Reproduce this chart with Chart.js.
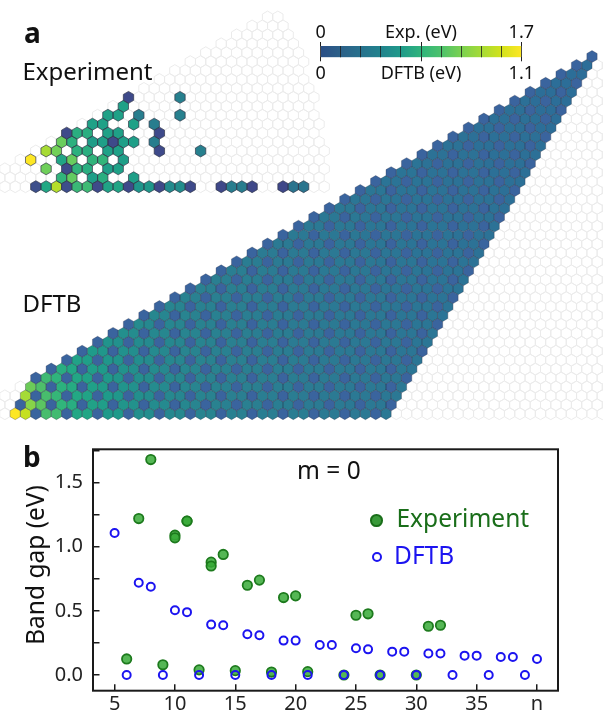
<!DOCTYPE html>
<html>
<head>
<meta charset="utf-8">
<script src="https://cdn.jsdelivr.net/npm/chart.js@4"></script>
<style>
body { margin: 0; background: #fff; }
#page { position: relative; width: 603px; height: 712px; overflow: hidden; font-family: "Noto Sans", sans-serif; color: #111; }
canvas { position: absolute; }
#map { filter: blur(.3px); }
.lbl { position: absolute; line-height: 1; white-space: nowrap; }
.dot { position: absolute; border-radius: 50%; box-sizing: border-box; }
</style>
</head>
<body>
<div id="page">
  <canvas id="map" width="603" height="430" style="left:0;top:0"></canvas>
  <canvas id="bar" width="310" height="70" style="left:270px;top:15px"></canvas>
  <canvas id="gap" width="603" height="282" style="left:0;top:430px"></canvas>
</div>
<script>
// panel b, m = 0
const bExpN = [6,7,8,9,10,10,11,11,12,13,13,14,15,16,17,18,19,20,21,24,25,26,27,30,31,32]
const bExpGap = [.125,1.22,1.68,.08,1.09,1.07,1.2,1.2,.04,.88,.85,.94,.034,.7,.74,.023,.604,.617,.026,0,.466,.477,0,0,.38,.388]
const bDftbN = [5,6,7,8,9,10,11,12,13,14,15,16,17,18,19,20,21,22,23,24,25,26,27,28,29,30,31,32,33,34,35,36,37,38,39,40]
const bDftbGap = [1.107,0,.719,.688,0,.505,.49,0,.393,.388,0,.318,.31,0,.268,.268,0,.234,.234,0,.208,.2,0,.182,.182,0,.167,.167,0,.151,.151,0,.14,.14,0,.125]
const bXTicks = [5,10,15,20,25,30,35,40]
const bXLabels = ['5','10','15','20','25','30','35','n']
const bYTicks = [0,.25,.5,.75,1,1.25,1.5,1.75]
const bYLabels = ['0.0','','0.5','','1.0','','1.5','']

// panel a, experiment: per row m, the tube index n and the gap
const expN = [
  [6,7,8,9,10,11,12,13,14,15,16,17,18,19,20,21,24,25,26,27,30,31,32],
  [8,9,11,12,15],
  [6,8,9,10,12,13],
  [4,7,8,10,11,13],
  [5,6,8,9,11,12,16,20],
  [6,7,9,10,11,12,13,15],
  [6,7,8,10,11,15],
  [8,9,12,14],
  [9,10,12,16],
  [10],
  [10,15]
]
const expGap = [
  [.1,.95,1.6,.08,1.1,1.12,.04,.85,.9,.03,.7,.72,.02,.6,.62,.03,0,.47,.47,0,0,.38,.39],
  [1.05,1.3,.8,1,.8],
  [1.35,.03,1.05,1,.8,.82],
  [1.9,.9,1.32,1.05,1.06,.8],
  [1.55,1.36,1.02,1,.82,.82,.03,.5],
  [1.33,1.02,.78,.8,.03,.8,.8,.48],
  [.03,1,1,.82,.82,.03],
  [.82,.82,.82,.47],
  [.82,.82,.48,.5],
  [.82],
  [.03,.5]
]

// panel a, DFTB: per row m, cells start at dftbStartN[m] and run to n = 40
const dftbStartN = [4,4,4,4,4,5,6,7,8,9,10,11,12,13,14,15,16,17,18,19,20,21,22,23,24,25,26,27,28,29,30,31,32,33,34,35,36,37,38,39,40]
const dftbGap = [
  [1.3,1.11,0,.72,.69,0,.5,.49,0,.39,.39,0,.32,.31,0,.27,.27,0,.23,.23,0,.21,.2,0,.18,.18,0,.17,.17,0,.15,.15,0,.14,.14,0,.13],
  [0,.93,.79,0,.61,.55,0,.45,.42,0,.36,.34,0,.3,.28,0,.26,.24,0,.22,.21,0,.2,.19,0,.18,.17,0,.16,.16,0,.15,.14,0,.14,.13,0],
  [1,0,.72,.63,0,.51,.47,0,.4,.37,0,.32,.3,0,.27,.25,0,.23,.22,0,.2,.19,0,.18,.18,0,.17,.16,0,.15,.15,0,.14,.14,0,.13,.13],
  [.85,.74,0,.58,.53,0,.44,.41,0,.35,.33,0,.29,.28,0,.25,.24,0,.22,.21,0,.2,.19,0,.18,.17,0,.16,.16,0,.15,.14,0,.14,.13,0,.13],
  [0,.67,.6,0,.49,.45,0,.39,.36,0,.32,.3,0,.27,.26,0,.23,.22,0,.21,.2,0,.19,.18,0,.17,.16,0,.16,.15,0,.14,.14,0,.13,.13,0],
  [0,.55,.5,0,.42,.39,0,.34,.32,0,.29,.27,0,.25,.24,0,.22,.21,0,.19,.19,0,.18,.17,0,.16,.16,0,.15,.14,0,.14,.13,0,.13,.12],
  [0,.46,.43,0,.37,.35,0,.31,.29,0,.26,.25,0,.23,.22,0,.2,.2,0,.18,.18,0,.17,.16,0,.15,.15,0,.14,.14,0,.13,.13,0,.12],
  [0,.4,.37,0,.33,.31,0,.28,.27,0,.24,.23,0,.21,.21,0,.19,.19,0,.17,.17,0,.16,.15,0,.14,.14,0,.13,.13,0,.12,.12,0],
  [0,.35,.33,0,.3,.28,0,.26,.25,0,.23,.22,0,.2,.19,0,.18,.18,0,.16,.16,0,.15,.15,0,.14,.14,0,.13,.13,0,.12,.12],
  [0,.32,.3,0,.27,.26,0,.24,.23,0,.21,.2,0,.19,.18,0,.17,.17,0,.16,.15,0,.14,.14,0,.13,.13,0,.12,.12,0,.12],
  [0,.29,.27,0,.25,.24,0,.22,.21,0,.2,.19,0,.18,.17,0,.16,.16,0,.15,.15,0,.14,.13,0,.13,.13,0,.12,.12,0],
  [0,.26,.25,0,.23,.22,0,.21,.2,0,.18,.18,0,.17,.16,0,.15,.15,0,.14,.14,0,.13,.13,0,.12,.12,0,.12,.11],
  [0,.24,.23,0,.21,.21,0,.19,.19,0,.17,.17,0,.16,.16,0,.15,.14,0,.14,.13,0,.13,.12,0,.12,.12,0,.11],
  [0,.22,.21,0,.2,.19,0,.18,.18,0,.17,.16,0,.15,.15,0,.14,.14,0,.13,.13,0,.12,.12,0,.11,.11,0],
  [0,.21,.2,0,.19,.18,0,.17,.17,0,.16,.15,0,.14,.14,0,.13,.13,0,.12,.12,0,.12,.11,0,.11,.11],
  [0,.19,.19,0,.18,.17,0,.16,.16,0,.15,.15,0,.14,.13,0,.13,.13,0,.12,.12,0,.11,.11,0,.11],
  [0,.18,.18,0,.17,.16,0,.15,.15,0,.14,.14,0,.13,.13,0,.12,.12,0,.12,.11,0,.11,.11,0],
  [0,.17,.17,0,.16,.15,0,.15,.14,0,.14,.13,0,.13,.12,0,.12,.12,0,.11,.11,0,.11,.1],
  [0,.16,.16,0,.15,.15,0,.14,.14,0,.13,.13,0,.12,.12,0,.11,.11,0,.11,.11,0,.1],
  [0,.15,.15,0,.14,.14,0,.13,.13,0,.12,.12,0,.12,.11,0,.11,.11,0,.1,.1,0],
  [0,.15,.14,0,.14,.13,0,.13,.12,0,.12,.12,0,.11,.11,0,.11,.1,0,.1,.1],
  [0,.14,.14,0,.13,.13,0,.12,.12,0,.12,.11,0,.11,.11,0,.1,.1,0,.1],
  [0,.13,.13,0,.13,.12,0,.12,.12,0,.11,.11,0,.1,.1,0,.1,.1,0],
  [0,.13,.13,0,.12,.12,0,.11,.11,0,.11,.11,0,.1,.1,0,.1,.09],
  [0,.12,.12,0,.12,.11,0,.11,.11,0,.1,.1,0,.1,.1,0,.09],
  [0,.12,.12,0,.11,.11,0,.11,.1,0,.1,.1,0,.1,.09,0],
  [0,.11,.11,0,.11,.11,0,.1,.1,0,.1,.1,0,.09,.09],
  [0,.11,.11,0,.1,.1,0,.1,.1,0,.09,.09,0,.09],
  [0,.11,.1,0,.1,.1,0,.1,.09,0,.09,.09,0],
  [0,.1,.1,0,.1,.1,0,.09,.09,0,.09,.09],
  [0,.1,.1,0,.09,.09,0,.09,.09,0,.09],
  [0,.1,.09,0,.09,.09,0,.09,.09,0],
  [0,.09,.09,0,.09,.09,0,.08,.08],
  [0,.09,.09,0,.09,.09,0,.08],
  [0,.09,.09,0,.08,.08,0],
  [0,.09,.08,0,.08,.08],
  [0,.08,.08,0,.08],
  [0,.08,.08,0],
  [0,.08,.08],
  [0,.08],
  [0]
]

// empty lattice behind the maps, first and last n of each row
const expGridStart = [3,2,2,3,4,5,6,7,8,9,10,11,12,13,14,15,16,17,18,19]
const expGridEnd = [34,33,33,32,32,31,30,30,29,28,28,27,26,25,25,24,23,22,21,20]
const dftbCornerStart = [3,2,2,3]
const dftbCornerEnd = [3,3,3,3]
const dftbGridEnd = [61,61,60,60,59,59,58,58,57,57,56,56,55,55,54,54,53,53,52,52,51,51,50,50,49,49,48,48,47,47,46,46,45,45,44,44,43,43,42,42]

// colour scale ticks
const barExpTicks = [0,.17,.34,.51,.68,.85,1.02,1.19,1.36,1.53,1.7]
const barDftbTicks = [0,.11,.22,.33,.44,.55,.66,.77,.88,.99,1.1]
const barExpLabels = ['0','','','','','Exp. (eV)','','','','','1.7']
const barDftbLabels = ['0','','','','','DFTB (eV)','','','','','1.1']

const font = '"Noto Sans", sans-serif'
const barColors = ['#2b4f86','#2c6189','#27718d','#21838d','#1f9a8a','#2fb47c','#4cc26c','#7ad151','#a5db36','#d2e21b','#fde725']
const expColors = [[0,'#3f4889'],[.1,'#3d4f8b'],[.38,'#2b748e'],[.5,'#27808e'],[.7,'#1f968b'],[.82,'#1fa187'],[.95,'#22a884'],[1.05,'#31b37b'],[1.2,'#4cc26c'],[1.35,'#6fcf5a'],[1.6,'#b5de2b'],[1.9,'#fde725']]
const dftbColors = [[0,'#3a649e'],[.08,'#2c6e98'],[.13,'#2b7894'],[.2,'#2a8091'],[.3,'#248c8e'],[.39,'#1f9a8a'],[.5,'#22a785'],[.6,'#2fb47c'],[.72,'#48bd6d'],[.9,'#7ad151'],[1,'#a5db36'],[1.11,'#c5e021'],[1.3,'#fde725']]

function hexToRgb(c){
    return [1,3,5].map(i => parseInt(c.slice(i,i+2),16))
}

function colorFor(v, stops){
    if (v <= stops[0][0]) return stops[0][1]
    for (let i = 1; i < stops.length; i++){
        if (v <= stops[i][0]){
            const a = hexToRgb(stops[i-1][1]), b = hexToRgb(stops[i][1])
            const t = (v - stops[i-1][0]) / (stops[i][0] - stops[i-1][0])
            return 'rgb(' + a.map((x,k) => Math.round(x + (b[k]-x)*t)).join(',') + ')'
        }
    }
    return stops[stops.length-1][1]
}

// chart.js has no hexagon point style, so a small controller draws them on the parsed points
class HexController extends Chart.ScatterController {
    draw(){
        const g = this.chart.ctx
        const ds = this.getDataset()
        const points = this.getMeta().data
        const hexPath = p => {
            g.beginPath()
            for (let i = 0; i < 6; i++){
                const a = Math.PI/3*i + Math.PI/6
                g.lineTo(p.x + 5.95*Math.cos(a), p.y + 5.95*Math.sin(a))
            }
            g.closePath()
        }
        g.save()
        points.forEach((p, i) => {
            hexPath(p)
            g.fillStyle = ds.stops ? colorFor(ds.data[i].gap, ds.stops) : '#ffffff'
            g.fill()
        })
        g.strokeStyle = ds.lineColor
        g.lineWidth = ds.lineW
        points.forEach(p => {
            hexPath(p)
            g.stroke()
        })
        g.restore()
    }
}
HexController.id = 'hex'
Chart.register(HexController)

// lattice position: x = n + m/2, y = m
function cell(n, m, gap){
    return {x: n + m/2, y: m, gap: gap}
}

const expCells = []
expN.forEach((row, m) => row.forEach((n, i) => expCells.push(cell(n, m, expGap[m][i]))))
const dftbCells = []
dftbGap.forEach((row, m) => row.forEach((v, i) => dftbCells.push(cell(dftbStartN[m] + i, m, v))))
const expGrid = []
expGridStart.forEach((s, m) => { for (let n = s; n <= expGridEnd[m]; n++) expGrid.push(cell(n, m)) })
const dftbGrid = []
dftbCornerStart.forEach((s, m) => { for (let n = s; n <= dftbCornerEnd[m]; n++) dftbGrid.push(cell(n, m)) })
dftbGridEnd.forEach((e, m) => { for (let n = 41; n <= e; n++) dftbGrid.push(cell(n, m)) })

new Chart(document.getElementById('map'), {
    type: 'scatter',
    data: {
        datasets: [
            {type: 'hex', data: dftbCells, yAxisID: 'yDftb', stops: dftbColors, lineColor: 'rgba(40,45,70,.42)', lineW: .7},
            {type: 'hex', data: expCells, yAxisID: 'yExp', stops: expColors, lineColor: 'rgba(45,50,70,.8)', lineW: .8},
            {type: 'hex', data: dftbGrid, yAxisID: 'yDftb', lineColor: '#ebebeb', lineW: 1},
            {type: 'hex', data: expGrid, yAxisID: 'yExp', lineColor: '#ebebeb', lineW: 1}
        ]
    },
    options: {
        responsive: false,
        animation: false,
        events: [],
        layout: {padding: 0, autoPadding: false},
        plugins: {legend: {display: false}, tooltip: {enabled: false}},
        scales: {
            x: {type: 'linear', display: false, min: 2.524, max: 61.068},
            yDftb: {type: 'linear', display: false, min: -1.825, max: 46.327},
            yExp: {type: 'linear', display: false, min: -27.25, max: 20.907}
        }
    }
})

new Chart(document.getElementById('bar'), {
    type: 'bar',
    data: {
        labels: [''],
        datasets: [{
            data: [1.7],
            xAxisID: 'xExp',
            barPercentage: 1,
            categoryPercentage: 1,
            backgroundColor: c => {
                const a = c.chart.chartArea
                if (!a) return '#2b4f86'
                const g = c.chart.ctx.createLinearGradient(a.left, 0, a.right, 0)
                barColors.forEach((col, i) => g.addColorStop(i/(barColors.length-1), col))
                return g
            }
        }]
    },
    options: {
        indexAxis: 'y',
        responsive: false,
        animation: false,
        events: [],
        layout: {padding: {left: 50.7, right: 58.7, top: 0, bottom: 0}, autoPadding: false},
        plugins: {legend: {display: false}, tooltip: {enabled: false}},
        scales: {
            y: {display: false},
            xExp: {
                type: 'linear', position: 'top', min: 0, max: 1.7,
                afterBuildTicks: s => { s.ticks = barExpTicks.map(v => ({value: v})) },
                afterFit: s => { s.height = 31; s.paddingLeft = 0; s.paddingRight = 0 },
                border: {display: false},
                grid: {z: 1, color: 'rgba(30,30,30,.8)', lineWidth: 1, tickLength: 4, tickColor: c => c.index % 5 ? 'transparent' : '#222'},
                ticks: {autoSkip: false, maxRotation: 0, padding: -2, color: '#111', font: {family: font, size: 18},
                    callback: (v, i) => barExpLabels[i]}
            },
            xDftb: {
                type: 'linear', position: 'bottom', min: 0, max: 1.1,
                afterBuildTicks: s => { s.ticks = barDftbTicks.map(v => ({value: v})) },
                afterFit: s => { s.height = 27.7; s.paddingLeft = 0; s.paddingRight = 0 },
                border: {display: false},
                grid: {z: 1, drawOnChartArea: false, tickLength: 4, tickColor: c => c.index % 5 ? 'transparent' : '#222'},
                ticks: {autoSkip: false, maxRotation: 0, padding: 2, color: '#111', font: {family: font, size: 18},
                    callback: (v, i) => barDftbLabels[i]}
            }
        }
    }
})

const frame = {
    id: 'frame',
    afterDraw(chart){
        const a = chart.chartArea, g = chart.ctx
        g.save()
        g.strokeStyle = '#1a1a1a'
        g.lineWidth = 2
        g.strokeRect(a.left, a.top, a.width, a.height)
        g.restore()
    }
}

new Chart(document.getElementById('gap'), {
    type: 'scatter',
    data: {
        datasets: [
            {
                label: 'DFTB',
                data: bDftbN.map((n, i) => ({x: n, y: bDftbGap[i]})),
                pointRadius: 4, pointBorderWidth: 2,
                pointBackgroundColor: 'transparent', pointBorderColor: '#1c14f0'
            },
            {
                label: 'Experiment',
                data: bExpN.map((n, i) => ({x: n, y: bExpGap[i]})),
                pointRadius: 4.7, pointBorderWidth: 1.8,
                pointBackgroundColor: 'rgba(55,170,55,.85)', pointBorderColor: '#1d7a1d'
            }
        ]
    },
    options: {
        responsive: false,
        animation: false,
        events: [],
        layout: {padding: {left: 0, right: 45, top: 19.3, bottom: 0}, autoPadding: false},
        plugins: {legend: {display: false}, tooltip: {enabled: false}},
        scales: {
            x: {
                type: 'linear', min: 3.21, max: 41.74,
                afterBuildTicks: s => { s.ticks = bXTicks.map(v => ({value: v})) },
                afterFit: s => { s.height = 21.3; s.paddingLeft = 0; s.paddingRight = 0 },
                border: {display: false},
                grid: {drawOnChartArea: false, tickLength: -6.5, tickColor: '#1a1a1a', lineWidth: 1.5},
                ticks: {autoSkip: false, maxRotation: 0, padding: 8.5, color: '#222', font: {family: font, size: 20},
                    callback: (v, i) => bXLabels[i]}
            },
            y: {
                type: 'linear', min: -.1225, max: 1.76,
                afterBuildTicks: s => { s.ticks = bYTicks.map(v => ({value: v})) },
                afterFit: s => { s.width = 93; s.paddingTop = 0; s.paddingBottom = 0 },
                border: {display: false},
                grid: {drawOnChartArea: false, tickLength: -6.5, tickColor: '#1a1a1a', lineWidth: 1.5},
                ticks: {autoSkip: false, padding: 16.5, color: '#222', font: {family: font, size: 20},
                    callback: (v, i) => bYLabels[i]}
            }
        }
    },
    plugins: [frame]
})

// panel letters and labels that sit on top of the charts: text, left, baseline, size
const page = document.getElementById('page')
function label(text, x, base, size, opts){
    const d = document.createElement('div')
    d.className = 'lbl'
    d.textContent = text
    d.style.left = x + 'px'
    d.style.top = (base - .888*size) + 'px'
    d.style.fontSize = size + 'px'
    Object.assign(d.style, opts || {})
    page.appendChild(d)
    return d
}
function dot(cx, cy, r, css){
    const d = document.createElement('div')
    d.className = 'dot'
    d.style.left = (cx - r) + 'px'
    d.style.top = (cy - r) + 'px'
    d.style.width = d.style.height = 2*r + 'px'
    Object.assign(d.style, css)
    page.appendChild(d)
}
label('a', 24, 43, 28, {fontWeight: 700})
label('Experiment', 22.5, 80, 24)
label('DFTB', 22.5, 312, 24)
label('b', 23, 467, 28, {fontWeight: 700})
label('m = 0', 297, 480, 24.5)
label('Experiment', 396.5, 528, 24.5, {color: '#1a6e1a'})
label('DFTB', 394, 565, 24.5, {color: '#1c14f0'})
dot(376.7, 520.7, 6.3, {background: '#3a9a3a', border: '2.4px solid #1a6e1a'})
dot(376.7, 557.3, 5.2, {border: '2px solid #1c14f0'})
const yTitle = label('Band gap (eV)', 0, 0, 24.5, {transformOrigin: '0 0'})
yTitle.style.top = '0px'
yTitle.style.transform = 'translate(23px, 565px) rotate(-90deg) translate(-50%, 0)'
</script>
</body>
</html>
